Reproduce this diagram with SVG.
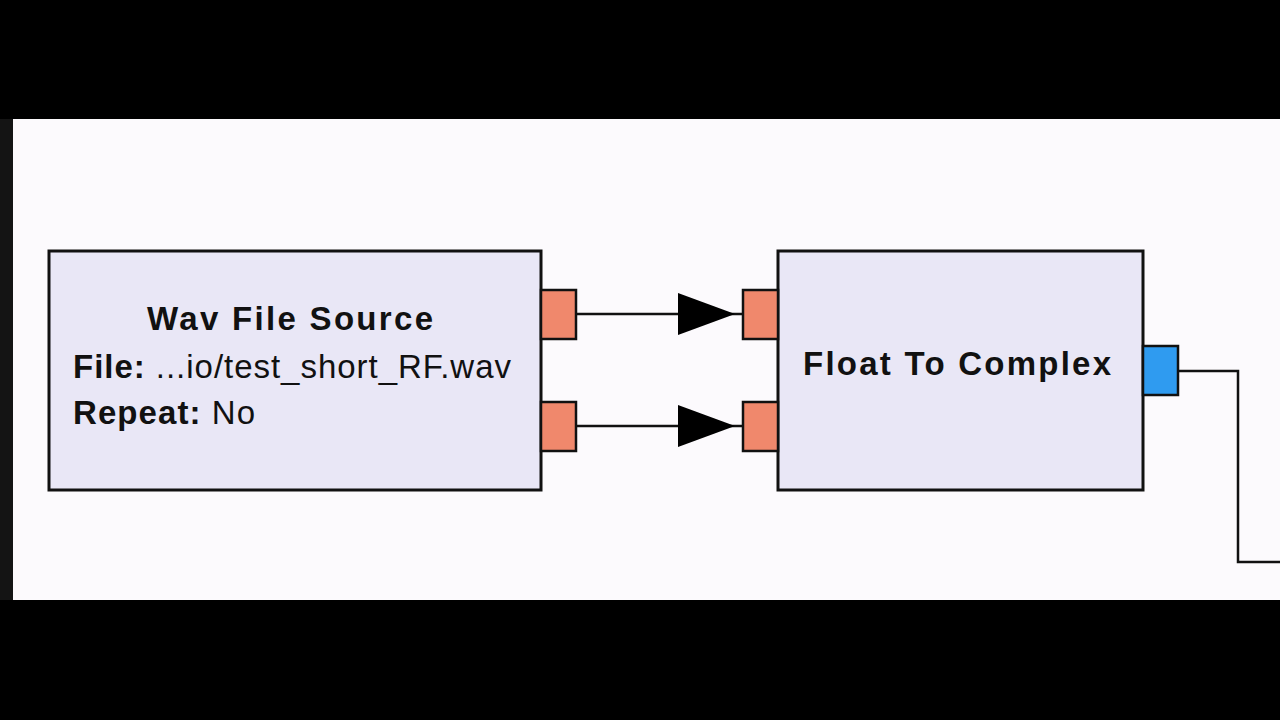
<svg xmlns="http://www.w3.org/2000/svg" width="1280" height="720" viewBox="0 0 1280 720">
<defs>
<style>
.blk{fill:#e9e7f6;stroke:#111;stroke-width:3}
.pin{fill:#f0886c;stroke:#111;stroke-width:2.5}
.pout{fill:#2f9bf0;stroke:#111;stroke-width:2.5}
.wire{fill:none;stroke:#111;stroke-width:2.5}
.t{font-family:"Liberation Sans",Arial,sans-serif;font-size:33px;fill:#111}
.b{font-weight:bold}
</style>
<marker id="arr" viewBox="0 0 65 42" refX="65" refY="21" markerWidth="65" markerHeight="42" markerUnits="userSpaceOnUse" orient="auto">
<path d="M0,0 L57,21 L0,42 Z" fill="#000"/>
</marker>
</defs>
<rect x="0" y="0" width="1280" height="720" fill="#000"/>
<rect x="0" y="119" width="13" height="481" fill="#141414"/>
<rect x="13" y="119" width="1267" height="481" fill="#fcfafd"/>
<g id="connectors">
<path class="wire" d="M576,314 H743" marker-end="url(#arr)"/>
<path class="wire" d="M576,426 H743" marker-end="url(#arr)"/>
<path class="wire" d="M1178,371 H1238 V562 H1280"/>
</g>
<g id="wav_file_source">
<rect class="blk" x="49" y="251" width="492" height="239"/>
<rect class="pin" x="541" y="290" width="35" height="49"/>
<rect class="pin" x="541" y="402" width="35" height="49"/>
<text class="t b" x="147" y="330" textLength="286" lengthAdjust="spacing">Wav File Source</text>
<text class="t" x="73" y="378" textLength="438" lengthAdjust="spacing"><tspan class="b">File:</tspan> ...io/test_short_RF.wav</text>
<text class="t" x="73" y="424" textLength="182" lengthAdjust="spacing"><tspan class="b">Repeat:</tspan> No</text>
</g>
<g id="float_to_complex">
<rect class="blk" x="778" y="251" width="365" height="239"/>
<rect class="pin" x="743" y="290" width="35" height="49"/>
<rect class="pin" x="743" y="402" width="35" height="49"/>
<rect class="pout" x="1143" y="346" width="35" height="49"/>
<text class="t b" x="803" y="375" textLength="308" lengthAdjust="spacing">Float To Complex</text>
</g>
</svg>
